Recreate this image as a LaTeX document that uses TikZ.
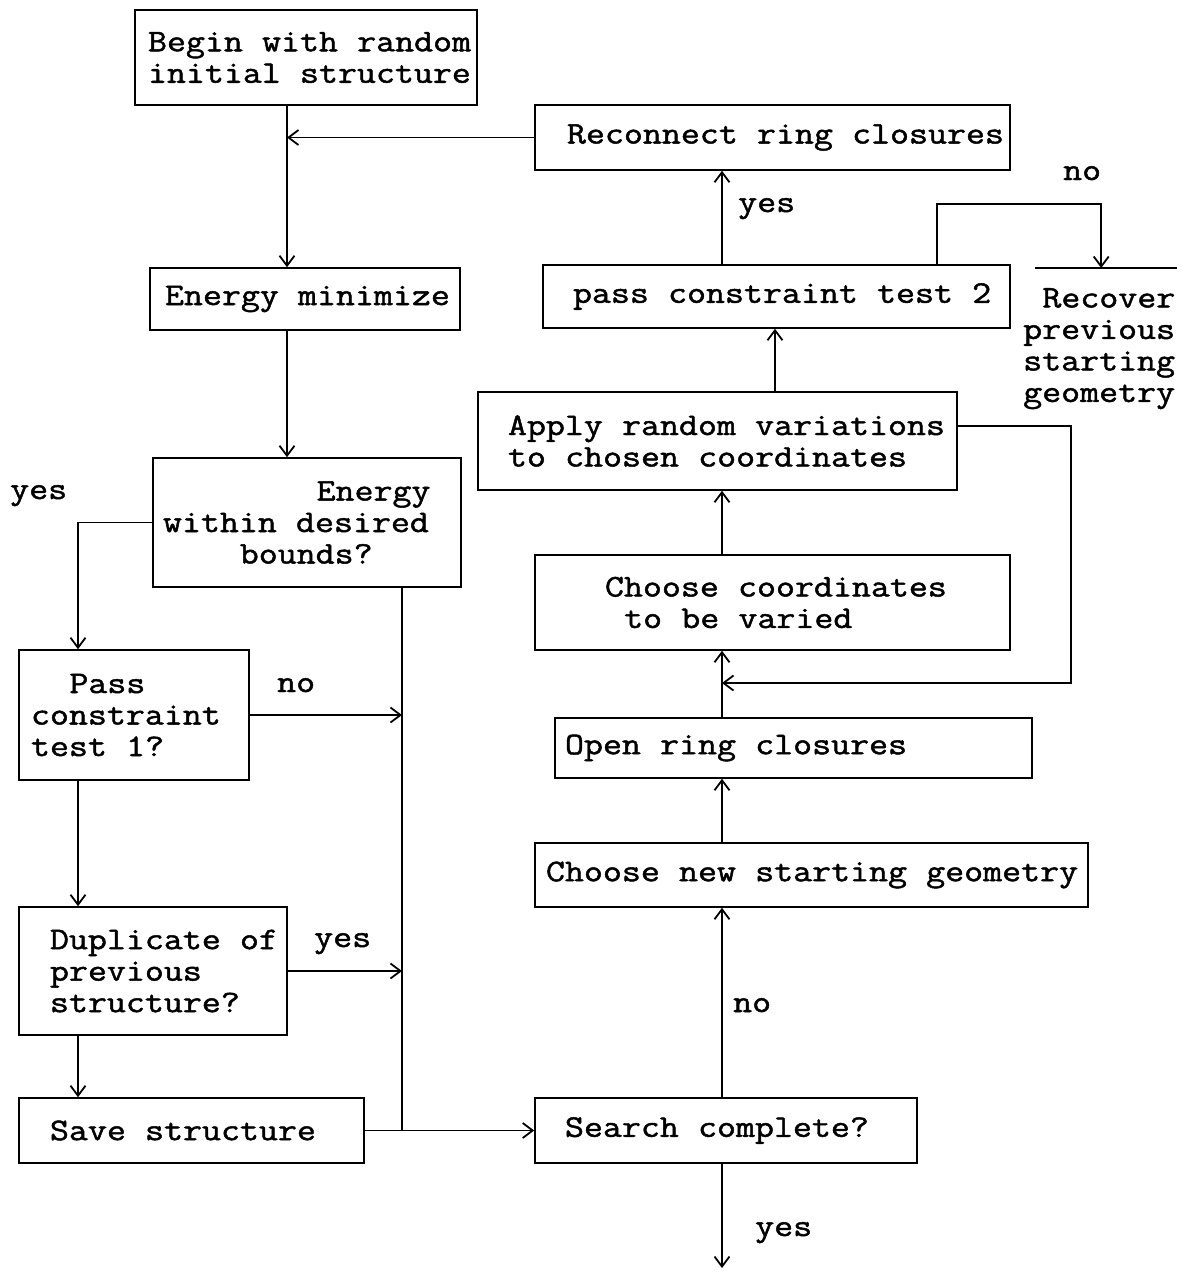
\documentclass[tikz,border=0pt]{standalone}
\usepackage{fontspec}
\setmainfont{Latin Modern Mono}[FakeStretch=1.17, FakeBold=1.5]
\usetikzlibrary{arrows.meta}
\newcommand\twfont{\fontsize{31.5}{31.5}\selectfont}

\begin{document}
\begin{tikzpicture}[x=1pt, y=-1pt,
    every node/.style={font=\twfont},
    box/.style={draw, rectangle, line width=1.6pt, inner xsep=0pt, inner ysep=0pt, align=left},
    lm/.style={execute at begin node={\leftskip=#1pt\spaceskip=19.2pt\xspaceskip=19.2pt\relax}},
    arr/.style={line width=1.6pt, -{Straight Barb[length=10pt, width=15pt, line width=1.8pt]}},
    ln/.style={line width=1.6pt},
    lbl/.style={anchor=base west, inner sep=0pt}]
    \useasboundingbox (0,0) rectangle (1190,1277);

    % guide lines
    \coordinate (lx) at (287,0);
    \coordinate (ll) at (78,0);
    \coordinate (vx) at (402,0);
    \coordinate (rx) at (722,0);
    \coordinate (ax) at (775,0);
    \coordinate (nx) at (937,0);

    % Left column
    \node[box, lm=13, text width=342pt, minimum height=95pt] (begin) at (306,57.5) {Begin with random\\initial structure};
    \node[box, lm=15, text width=310pt, minimum height=62pt] (emin) at (305,299) {Energy minimize};
    \node[box, lm=10, text width=308pt, minimum height=129pt] (ewin) at (307,522.5) {~~~~~~~~Energy\\within desired\\~~~~bounds?};
    \node[box, lm=12, text width=230pt, minimum height=130pt] (pass1) at (134,715) {~~Pass\\constraint\\test 1?};
    \node[box, lm=31, text width=268pt, minimum height=128pt] (dup) at (153,971) {Duplicate of\\previous\\structure?};
    \node[box, lm=31, text width=345pt, minimum height=65pt] (save) at (191.5,1130.5) {Save structure};

    % Right column
    \node[box, lm=32, text width=475pt, minimum height=65pt] (reconnect) at (772.5,137.5) {Reconnect ring closures};
    \node[box, lm=30, text width=467pt, minimum height=63pt] (pass2) at (776.5,296.5) {pass constraint test 2};
    \node[box, lm=30, text width=479pt, minimum height=98pt] (apply) at (717.5,441) {Apply random variations\\to chosen coordinates};
    \node[box, lm=70, text width=475pt, minimum height=95pt] (ccoord) at (772.5,602.5) {Choose coordinates\\~to be varied};
    \node[box, lm=10, text width=477pt, minimum height=60pt] (open) at (793.5,748) {Open ring closures};
    \node[box, lm=11, text width=553pt, minimum height=64pt] (cnew) at (811.5,875) {Choose new starting geometry};
    \node[box, lm=30, text width=382pt, minimum height=65pt] (search) at (726,1130.5) {Search complete?};
    \node[lm=0, anchor=north west, inner xsep=0pt, inner ysep=20pt, text width=156pt, align=left] (recover) at (1023,268) {~Recover\\previous\\starting\\geometry};
    \draw[ln] ([xshift=12pt]recover.north west) -- ([xshift=-2pt]recover.north east);
    \coordinate (loopin) at (722,683);
    \coordinate (stop) at (722,1268);

    % Connectors, left
    \draw[arr] (begin.south -| lx) -- (emin.north -| lx);
    \draw[arr] (reconnect.west) -- (reconnect.west -| lx);
    \draw[arr] (emin.south -| lx) -- (ewin.north -| lx);
    \draw[arr] (ewin.west) -| (pass1.north -| ll);
    \draw[arr] (pass1.east) -- (pass1.east -| vx);
    \draw[arr] (pass1.south -| ll) -- (dup.north -| ll);
    \draw[arr] (dup.east) -- (dup.east -| vx);
    \draw[arr] (dup.south -| ll) -- (save.north -| ll);
    \draw[ln] (ewin.south -| vx) -- (save.east -| vx);
    \draw[arr] (save.east) -- (search.west);

    % Connectors, right
    \draw[arr] (search.north -| rx) -- (cnew.south -| rx);
    \draw[arr] (search.south -| rx) -- (stop);
    \draw[arr] (cnew.north -| rx) -- (open.south -| rx);
    \draw[arr] (open.north -| rx) -- (ccoord.south -| rx);
    \draw[arr] ([yshift=15pt]apply.east) -- ++(113,0) |- (loopin);
    \draw[arr] (ccoord.north -| rx) -- (apply.south -| rx);
    \draw[arr] (apply.north -| ax) -- (pass2.south -| ax);
    \draw[arr] (pass2.north -| rx) -- (reconnect.south -| rx);
    \draw[arr] (pass2.north -| nx) -- ++(0,-60) -| (recover.north);

    % Labels
    \node[lbl] (yes1) at (10,499) {yes};
    \node[lbl] (no1) at (277,692) {no};
    \node[lbl] (yes2) at (314,947) {yes};
    \node[lbl] (no2) at (733,1012) {no};
    \node[lbl] (yes3) at (755,1236) {yes};
    \node[lbl] (yes4) at (738,212) {yes};
    \node[lbl] (no3) at (1063,180) {no};
\end{tikzpicture}
\end{document}
